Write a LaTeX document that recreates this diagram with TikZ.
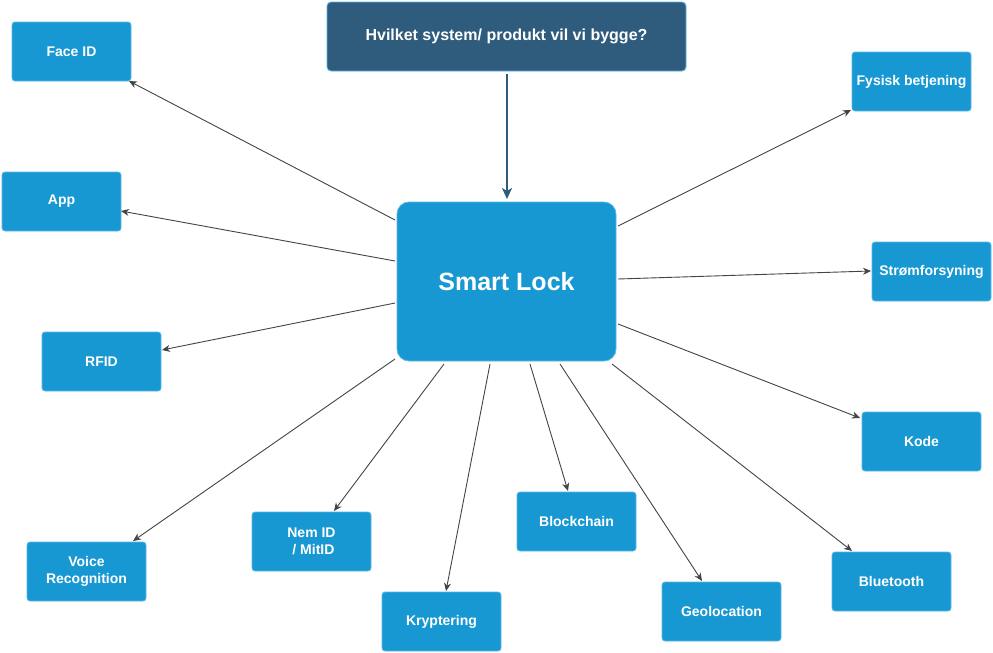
\documentclass[tikz,border=0pt]{standalone}
\usepackage{fontspec}
\setmainfont{Liberation Sans}
\usetikzlibrary{arrows.meta}
\definecolor{boxblue}{HTML}{1898D2}
\definecolor{boxedge}{HTML}{5BB8E6}
\definecolor{topblue}{HTML}{2F5B7C}
\definecolor{lineg}{HTML}{444444}
\tikzset{
  leaf/.style={draw=boxedge, line width=0.8pt, fill=boxblue, rounded corners=3pt, minimum width=119pt, minimum height=59pt, inner sep=0pt, text=white, font=\bfseries\fontsize{14}{17}\selectfont, align=center},
  arr/.style={draw=lineg, line width=0.9pt, -{Stealth[length=8pt,width=7pt,inset=2.5pt]}},
}
\begin{document}
\begin{tikzpicture}[x=1pt,y=-1pt]
\useasboundingbox[fill=white] (0,0) rectangle (993,653);
\node[draw=boxedge, line width=0.8pt, fill=topblue, rounded corners=4pt, minimum width=359pt, minimum height=69pt, text=white, font=\bfseries\fontsize{16}{18}\selectfont] (top) at (506.5,36.5) {Hvilket system/ produkt vil vi bygge?};
\node[draw=boxedge, line width=0.8pt, fill=boxblue, rounded corners=12pt, minimum width=219pt, minimum height=159pt, text=white, font=\bfseries\fontsize{25}{28}\selectfont] (sl) at (506.5,281.5) {Smart Lock};

\node[leaf] (face) at (71.5,51.5) {Face ID};
\node[leaf] (app) at (61.5,201.5) {App};
\node[leaf] (rfid) at (101.5,361.5) {RFID};
\node[leaf] (voice) at (86.5,571.5) {Voice\\Recognition};
\node[leaf] (nem) at (311.5,541.5) {Nem ID\\\ / MitID};
\node[leaf] (kryp) at (441.5,621.5) {Kryptering};
\node[leaf] (block) at (576.5,521.5) {Blockchain};
\node[leaf] (geo) at (721.5,611.5) {Geolocation};
\node[leaf] (blue) at (891.5,581.5) {Bluetooth};
\node[leaf] (kode) at (921.5,441.5) {Kode};
\node[leaf] (strom) at (931.5,271.5) {Strømforsyning};
\node[leaf] (fys) at (911.5,81.5) {Fysisk betjening};

\coordinate (s1) at (395,220);
\coordinate (s2) at (395,261);
\coordinate (s3) at (395,303);
\coordinate (s4) at (395,359);
\coordinate (s5) at (444,364);
\coordinate (s6) at (490,364);
\coordinate (s7) at (530,364);
\coordinate (s8) at (560,364);
\coordinate (s9) at (612,364);
\coordinate (s10) at (618,324);
\coordinate (s11) at (618,279);
\coordinate (s12) at (618,226);
\coordinate (e1) at (129,81);
\coordinate (e2) at (121,211);
\coordinate (e3) at (162,350);
\coordinate (e4) at (133,541);
\coordinate (e5) at (334,511);
\coordinate (e6) at (446,591);
\coordinate (e7) at (568,491);
\coordinate (e8) at (702,581);
\coordinate (e9) at (852,551);
\coordinate (e10) at (860,418);
\coordinate (e11) at (871,271);
\coordinate (e12) at (851,110);

\draw[arr] (s1) -- (e1);
\draw[arr] (s2) -- (e2);
\draw[arr] (s3) -- (e3);
\draw[arr] (s4) -- (e4);
\draw[arr] (s5) -- (e5);
\draw[arr] (s6) -- (e6);
\draw[arr] (s7) -- (e7);
\draw[arr] (s8) -- (e8);
\draw[arr] (s9) -- (e9);
\draw[arr] (s10) -- (e10);
\draw[arr] (s11) -- (e11);
\draw[arr] (s12) -- (e12);

\draw[draw=topblue, line width=2.6pt, -{Stealth[length=11pt,width=10pt,inset=3pt]}] (top.south -| 507,0) ++(0,3) -- (507,199);
\end{tikzpicture}
\end{document}
